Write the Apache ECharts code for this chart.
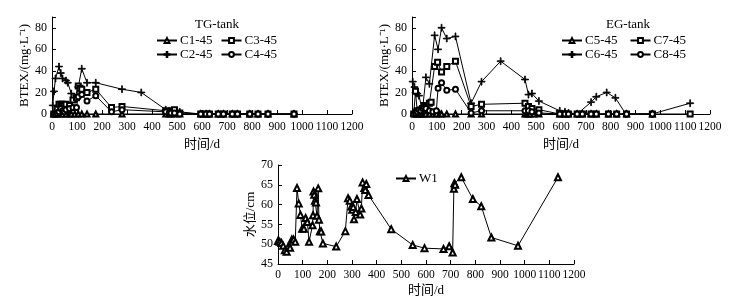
<!DOCTYPE html>
<html>
<head>
<meta charset="utf-8">
<script src="https://cdn.jsdelivr.net/npm/echarts@6/dist/echarts.min.js"></script>
<style>
html,body{margin:0;padding:0;background:#fff;}
#main{width:753px;height:303px;}
</style>
</head>
<body>
<div id="main"></div>
<script>
/* 数据：[时间/d, 值] */

// TG-tank
var c1 = [[7,0],[14,0],[21,0],[28,1],[35,0],[42,0],[56,0],[70,0],[77,0],[91,0],[105,0],[119,0],[140,0],[175,0],[280,0],[455,0],[469,0],[476,0],[490,0],[511,0],[595,0],[616,0],[630,0],[665,0],[686,0],[721,0],[742,0],[791,0],[824,0],[864,0],[968,0]];
var c2 = [[3,8],[8,21],[14,33],[28,44],[35,38],[42,33],[56,31],[63,29],[77,19],[91,15],[98,14],[105,25],[119,42],[140,29],[175,29],[280,23],[357,20],[455,4],[469,3],[476,3],[490,3],[511,2],[595,0],[616,0],[630,0],[665,0],[686,0],[721,0],[742,0],[791,0],[824,0],[864,0],[968,0]];
var c3 = [[7,0],[14,1],[21,5],[28,9],[35,9],[42,9],[49,8],[56,9],[70,8],[84,13],[98,15],[105,26],[112,24],[119,23],[140,20],[175,23],[238,6],[280,7],[455,3],[469,2],[476,2],[490,4],[511,1],[595,0],[616,0],[630,0],[665,0],[686,0],[721,0],[742,0],[791,0],[824,0],[864,0],[968,0]];
var c4 = [[7,0],[14,0],[21,1],[28,2],[35,5],[42,3],[49,2],[56,4],[70,5],[84,6],[98,6],[105,16],[119,18],[140,12],[175,17],[238,2],[280,4],[455,2],[469,1],[476,1],[490,1],[511,0],[595,0],[616,0],[630,0],[665,0],[686,0],[721,0],[742,0],[791,0],[824,0],[864,0],[968,0]];

// EG-tank
var c5 = [[7,1],[14,0],[21,0],[28,0],[35,0],[42,0],[49,0],[56,0],[70,0],[84,0],[98,0],[112,0],[119,0],[140,0],[175,0],[238,0],[280,0],[455,0],[462,0],[469,0],[476,0],[490,0],[511,0],[595,0],[616,0],[630,0],[665,0],[686,0],[721,0],[742,0],[791,0],[824,0],[864,0],[968,0]];
var c6 = [[3,30],[10,25],[14,20],[21,19],[28,17],[42,3],[56,34],[70,28],[91,73],[105,60],[119,80],[140,70],[175,72],[238,10],[280,30],[357,49],[455,32],[469,18],[483,19],[511,12],[595,3],[616,2],[630,1],[665,0],[721,11],[742,16],[784,20],[819,15],[861,0],[966,0],[1120,10]];
var c7 = [[7,0],[14,21],[21,3],[28,1],[35,2],[42,5],[49,8],[56,7],[70,10],[77,11],[91,44],[103,48],[119,39],[140,44],[175,49],[238,7],[280,9],[455,10],[469,7],[483,5],[511,4],[595,0],[616,0],[630,0],[665,0],[686,0],[721,0],[742,0],[791,0],[824,0],[864,0],[968,0],[1120,0]];
var c8 = [[7,0],[14,1],[21,2],[28,4],[35,3],[42,5],[49,6],[56,5],[70,3],[84,2],[98,3],[105,24],[119,29],[140,22],[175,23],[238,1],[280,3],[455,3],[469,3],[483,2],[511,1],[595,0],[616,0],[630,0],[665,0],[686,0],[721,0],[742,0],[791,0],[824,0],[864,0],[968,0]];

// W1 水位
var w1 = [[0,50.8],[7,50.6],[14,50.3],[21,49.6],[28,48.5],[35,48.1],[42,49.4],[49,49.1],[56,51.2],[63,51.2],[70,50.6],[77,64.2],[84,60.3],[91,57.4],[98,53.9],[105,53.9],[112,56.6],[119,55.6],[126,50.6],[140,54.8],[142,57.3],[144,63.3],[147,62.5],[150,61.0],[154,60.5],[158,57.2],[163,64.1],[166,56.2],[170,53.3],[175,53.2],[182,50.2],[236,49.4],[273,53.3],[284,61.6],[291,61.0],[298,59.5],[301,58.7],[305,59.4],[308,56.3],[315,58.1],[320,61.4],[333,57.5],[338,59.0],[343,65.6],[350,64.2],[354,63.7],[358,65.2],[367,62.4],[459,53.8],[546,49.8],[594,49.0],[671,48.8],[694,49.5],[708,47.9],[713,64.0],[715,65.4],[718,65.0],[743,66.9],[790,61.4],[824,59.6],[865,51.7],[973,49.6],[1135,66.9]];

var serif = '"Liberation Serif", "Noto Sans CJK SC", serif';
var plus = 'path://M4.4,0H5.6V4.4H10V5.6H5.6V10H4.4V5.6H0V4.4H4.4Z';

function xAx(idx){
	return {
		gridIndex: idx, type: 'value', min: 0, max: 1200, interval: 100,
		offset: idx == 2 ? 0 : 2,
		name: '时间/d', nameLocation: 'middle', nameGap: idx == 2 ? 20 : 22,
		nameTextStyle: {color: '#000', fontSize: 13, fontFamily: serif},
		axisLine: {lineStyle: {color: '#000', width: 1}},
		axisTick: {inside: true, length: 4, lineStyle: {color: '#000'}},
		axisLabel: {color: '#000', fontSize: 11.5, fontFamily: serif, margin: 5,
			showMinLabel: true, showMaxLabel: true, interval: 0, hideOverlap: false,
			formatter: function(v){ return String(v); }},
		splitLine: {show: false}
	};
}
function yAx(idx, name, min, max, step, hideTop){
	return {
		gridIndex: idx, type: 'value', min: min, max: max, interval: step,
		name: name, nameLocation: 'middle', nameGap: idx == 2 ? 20 : 19,
		nameTextStyle: {color: '#000', fontSize: 13, fontFamily: serif},
		axisLine: {show: true, lineStyle: {color: '#000', width: 1}},
		axisTick: {inside: true, length: 4, lineStyle: {color: '#000'}},
		axisLabel: {color: '#000', fontSize: 12, fontFamily: serif, margin: 5,
			showMaxLabel: true,
			formatter: function(v){ return (hideTop && v == max) ? '' : String(v); }},
		splitLine: {show: false}
	};
}
function ser(name, data, sym, size, idx){
	return {
		name: name, type: 'line', data: data, xAxisIndex: idx, yAxisIndex: idx,
		symbol: sym, symbolSize: size, showSymbol: true,
		lineStyle: {color: '#000', width: 1},
		itemStyle: {color: '#000', borderColor: '#000', borderWidth: 0.8},
		animation: false
	};
}
function leg(names, left, top, gap){
	return {
		data: names, left: left, top: top, itemGap: gap, itemWidth: 20, itemHeight: 6,
		textStyle: {color: '#000', fontSize: 13, fontFamily: serif, padding: [0,0,0,-2]},
		selectedMode: false
	};
}

var chart = echarts.init(document.getElementById('main'));
var option = {
	backgroundColor: '#fff',
	title: [
		{text: 'TG-tank', left: 212, top: 13, textAlign: 'center', textStyle: {color: '#000', fontSize: 13, fontWeight: 'normal', fontFamily: serif}},
		{text: 'EG-tank', left: 623, top: 13, textAlign: 'center', textStyle: {color: '#000', fontSize: 13, fontWeight: 'normal', fontFamily: serif}}
	],
	legend: [
		leg(['C1-45', 'C3-45'], 151, 29, 8),
		leg(['C2-45', 'C4-45'], 151, 43, 8),
		leg(['C5-45', 'C7-45'], 556, 29, 12),
		leg(['C6-45', 'C8-45'], 556, 43, 12),
		leg(['W1'], 390, 167, 8)
	],
	grid: [
		{left: 52, width: 300, top: 17, height: 97},
		{left: 412, width: 298, top: 17, height: 97},
		{left: 278, width: 296, top: 165, height: 99}
	],
	xAxis: [xAx(0), xAx(1), xAx(2)],
	yAxis: [
		yAx(0, 'BTEX/(mg·L⁻¹)', 0, 90, 20, true),
		yAx(1, 'BTEX/(mg·L⁻¹)', 0, 90, 20, true),
		yAx(2, '水位/cm', 45, 70, 5, false)
	],
	series: [
		ser('C1-45', c1, 'emptyTriangle', 5, 0),
		ser('C2-45', c2, plus, 7, 0),
		ser('C3-45', c3, 'emptyRect', 5, 0),
		ser('C4-45', c4, 'emptyCircle', 5, 0),
		ser('C5-45', c5, 'emptyTriangle', 5, 1),
		ser('C6-45', c6, plus, 7, 1),
		ser('C7-45', c7, 'emptyRect', 5, 1),
		ser('C8-45', c8, 'emptyCircle', 5, 1),
		ser('W1', w1, 'emptyTriangle', 6, 2)
	]
};
chart.setOption(option);
</script>
</body>
</html>
